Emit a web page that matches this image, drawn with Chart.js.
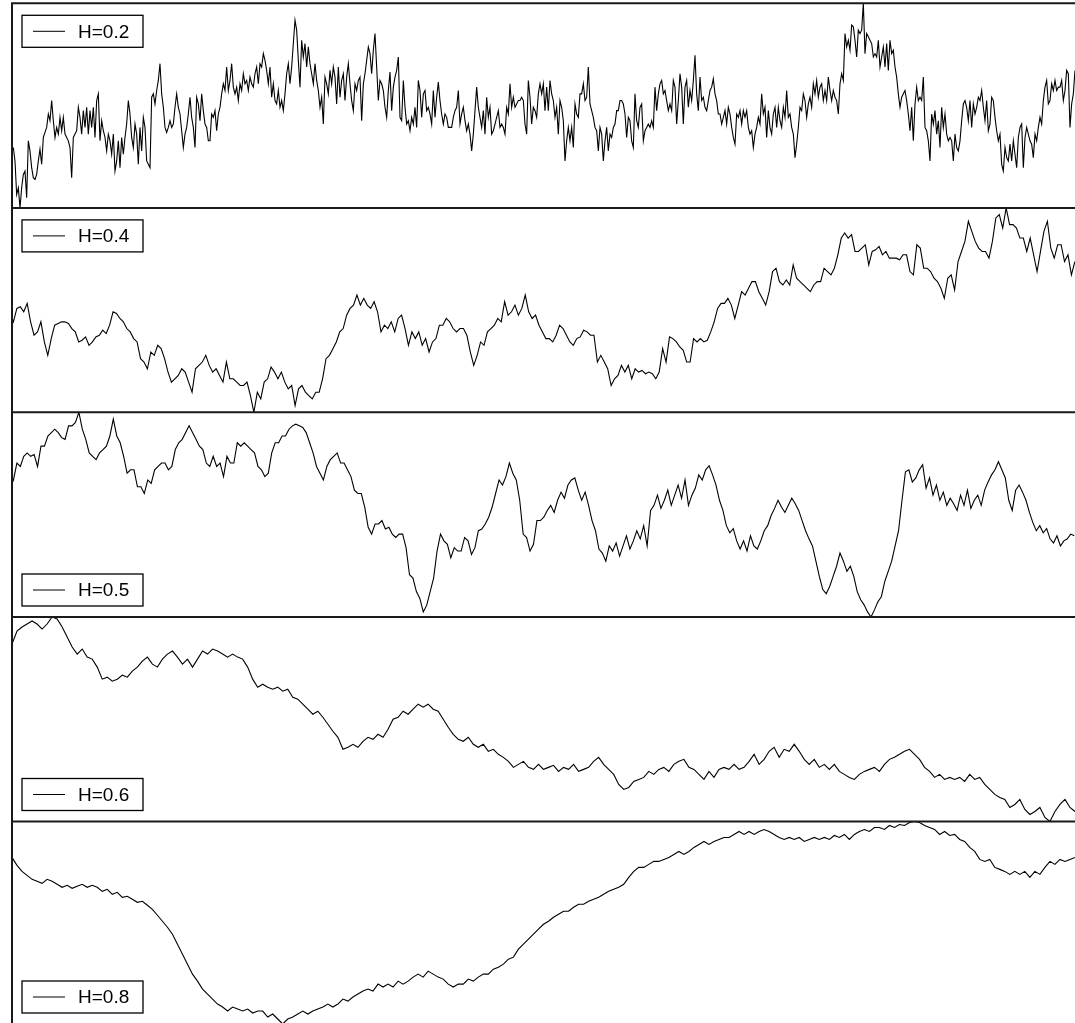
<!DOCTYPE html>
<html>
<head>
<meta charset="utf-8">
<script src="https://cdn.jsdelivr.net/npm/chart.js@4.4.0/dist/chart.umd.min.js"></script>
<style>
  html, body { margin: 0; padding: 0; background: #fff; overflow: hidden; }
  #wrap { position: relative; width: 1075px; height: 1023px; }
  #wrap canvas { position: absolute; left: 0; }
</style>
</head>
<body>
<div id="wrap"></div>
<script>
// fractional Brownian motion sample paths, one panel per Hurst exponent
const labels = ['H=0.2', 'H=0.4', 'H=0.5', 'H=0.6', 'H=0.8']

const h02 = [
  180,140,40,60,0,60,100,110,30,200, 170,120,90,85,100,140,175,130,210,225,
  240,280,260,320,260,210,240,220,270,230, 270,220,210,200,180,90,210,220,230,300,
  270,220,290,240,300,220,290,240,300,210, 320,340,200,260,230,210,170,220,200,160,
  220,110,140,200,120,210,160,210,250,320, 280,210,180,250,220,130,240,170,270,240,
  140,130,120,330,340,310,350,380,430,340, 300,240,225,240,260,240,250,300,340,300,
  280,230,180,220,240,280,330,270,240,180, 330,310,260,340,290,250,240,200,200,280,
  270,290,230,280,300,340,370,350,420,350, 380,430,360,340,360,320,370,350,400,370,
  380,350,390,370,360,400,420,370,430,420, 460,440,410,370,420,330,370,320,310,350,
  300,320,290,340,400,430,370,420,490,560, 530,440,360,500,450,490,420,480,430,400,
  370,430,380,350,300,330,250,390,370,340, 410,370,420,390,310,420,330,380,400,320,
  390,430,370,320,290,370,350,380,390,260, 370,400,440,480,
  460,400,470,520,420,320,380,370,350,300, 270,350,405,290,360,390,410,450,270,260,
  380,300,250,260,230,270,250,300,240,380, 350,270,340,350,290,300,280,250,350,270,
  330,375,320,280,250,280,270,240,240,240, 270,290,300,350,250,280,300,260,230,250,
  220,170,220,290,360,300,270,240,290,220, 330,270,300,220,230,250,270,290,240,250,
  240,220,300,280,370,300,330,300,310,320, 320,330,320,250,220,380,330,250,300,290,
  270,340,370,340,370,290,360,290,380,340, 320,270,300,220,320,300,260,140,200,240,
  200,240,180,310,280,270,340,340,370,320, 330,420,310,290,270,240,230,170,240,220,
  140,200,240,170,220,210,240,250,290,290, 320,320,310,280,210,270,260,200,180,340,
  260,240,300,310,200,230,240,250,240,260, 240,360,290,340,370,380,340,350,320,290,
  310,290,380,360,250,320,400,360,250,360, 380,300,350,320,380,455,340,290,390,320,
  330,300,290,320,350,360,385,340,320,280,
  280,250,270,290,250,300,280,240,210,190, 280,270,290,250,290,270,290,240,220,230,
  180,220,240,270,250,340,280,300,210,290, 240,220,280,300,240,300,260,240,300,270,
  350,270,280,240,220,150,190,240,300,290, 340,320,270,310,330,300,370,340,380,330,
  360,370,320,350,320,390,350,320,350,330, 320,280,370,400,380,520,480,500,470,545,
  540,500,450,530,520,530,610,460,520,510, 500,490,450,460,450,500,420,450,480,420,
  490,410,500,460,470,420,390,340,300,330, 340,350,320,280,230,300,200,310,360,320,
  330,320,390,240,230,200,140,280,250,290, 220,260,180,300,240,280,220,200,210,200,
  140,220,180,170,200,260,310,320,300,260, 320,240,310,280,300,330,320,350,300,260,
  320,230,250,330,320,270,230,200,220,130, 110,180,150,140,190,140,200,160,120,210,
  240,250,120,210,240,220,200,190,150,220, 200,240,270,250,320,360,380,310,320,370,
  350,380,350,360,360,380,320,350,410,400, 240,310,340,410
]

const h04 = [
  300,270,310,315,300,325,270,230,240,270, 210,170,220,260,265,270,270,265,250,240,
  210,215,225,200,210,225,230,245,235,260, 300,295,280,270,250,240,220,210,160,150,
  130,180,170,200,190,160,120,90,100,110, 130,120,90,60,130,140,150,170,140,120,
  130,110,90,150,100,100,90,80,80,90, 50,0,60,40,90,100,135,120,100,120,
  90,70,80,20,70,80,60,50,40,60, 60,100,160,170,190,210,240,250,290,310,
  320,350,320,340,320,310,330,300,240,260, 250,270,240,280,290,250,200,240,220,240,
  200,220,180,210,220,260,260,280,270,250, 240,250,250,230,180,140,170,210,200,240,
  250,260,280,270,330,290,300,320,290,310, 350,300,280,290,260,240,220,
  220,210,230,260,250,230,210,200,220,225, 245,240,230,230,150,170,150,130,80,100,
  110,140,120,140,100,130,120,125,115,120, 115,100,120,190,150,225,220,210,195,185,
  150,150,220,210,220,210,215,240,270,310, 325,325,340,320,280,320,360,350,370,390,
  390,360,340,320,360,420,430,390,380,395, 380,440,400,390,380,370,360,380,390,390,
  430,420,410,430,470,520,535,520,530,480, 480,490,500,440,480,485,495,470,480,460,
  460,460,455,470,470,420,410,500,490,430, 430,420,400,390,370,340,400,410,365,450,
  480,510,570,540,510,490,480,480,460,510, 580,590,550,610,560,560,550,520,520,480,
  520,470,420,480,540,570,490,460,500,500, 450,470,410,450
]

const h05 = [
  385,410,460,450,480,490,480,485,450,510, 510,540,550,560,550,535,530,570,570,580,
  610,560,530,490,480,470,490,500,510,540, 590,540,520,480,430,440,440,390,390,370,
  410,400,440,450,460,460,440,450,500,520, 530,550,570,550,530,510,500,460,450,480,
  450,460,420,480,460,460,520,510,520,510, 500,490,450,440,420,430,490,520,520,540,
  540,560,570,575,570,565,550,520,490,450, 430,410,450,470,480,490,460,460,440,420,
  380,370,370,330,270,250,280,280,290,265, 270,250,240,250,250,210,130,120,80,60,
  20,40,80,120,200,250,230,220,180,210, 200,200,240,230,190,210,260,265,280,300,
  330,370,410,395,420,460,430,410,350,250, 240,200,220,290,290,300,320,
  335,314,350,374,356,395,410,416,380,
  350,374,335,290,260,206,194,170,215,
  200,224,185,215,245,206,230,260,236,275,215,
  320,335,365,326,350,380,335,365,395,356,410,335,365,386,
  425,410,440,452,425,395,350,320,275,254,266,230,
  206,230,200,245,215,206,230,260,275,305,326,
  350,330,314,335,356,340,320,290,260,236,215,170,125,
  86,74,95,125,155,194,170,140,155,125,80,56,
  41,20,5,26,50,65,110,140,170,215,260,
  350,434,440,404,416,440,455,386,416,365,395,
  350,374,335,356,340,320,365,335,380,326,350,365,335,
  380,404,425,440,464,440,416,350,320,380,395,
  374,350,314,284,260,275,254,266,236,224,245,
  215,230,236,250,245
]

const h06 = [
  177,190,194,197,200,197,192,197,204,202, 194,184,174,167,172,164,162,154,142,144,
  140,142,146,144,150,154,160,164,157,154, 162,167,170,164,157,162,154,162,170,167,
  172,170,167,164,167,164,162,154,142,134, 137,134,132,134,130,132,124,122,117,112,
  107,110,104,97,90,84,72,74,77,74, 80,84,82,87,84,92,102,104,110,107,
  112,117,114,117,112,110,102,94,87,82, 80,84,77,74,77,70,72,67,64,60,
  54,57,60,54,52,57,52,54,56,50, 54,52,57,50,52,54,60,64,57,52,
  47,37,32,34,40,42,44,50,47,52, 54,50,57,60,62,54,52,47,42,50,
  44,52,54,52,57,52,54,60,67,57, 62,70,74,64,72,70,77,70,62,57,
  62,54,57,52,57,50,47,44,42,47, 50,52,54,50,57,62,64,67,70,72,
  67,62,54,50,44,47,42,44,42,44, 40,47,42,44,37,32,27,24,22,14,
  17,22,12,7,10,14,4,0,10,17, 22,14,10
]

const h08 = [
  169,161,155,151,147,145,143,147,145,142, 139,141,138,140,142,139,141,139,135,137,
  132,134,129,130,127,124,125,121,117,111, 105,99,92,82,72,62,52,45,37,32,
  27,22,19,15,19,17,15,17,13,15, 15,9,12,7,2,7,9,12,15,12,
  15,17,19,22,19,22,27,25,29,32, 35,37,35,42,39,42,39,45,42,45,
  49,52,49,55,52,49,47,42,39,42, 42,47,45,49,52,52,57,59,62,67,
  69,77,82,87,92,97,102,105,109,112, 115,115,119,122,122,125,127,129,132,135,
  137,139,142,149,155,159,159,162,165,165, 167,169,172,175,172,175,179,182,185,182,
  185,187,189,189,192,195,192,195,192,195, 197,195,192,189,187,189,187,189,185,187,
  189,187,189,187,191,189,192,187,192,195, 197,195,199,199,197,201,199,202,201,204,
  205,204,201,199,197,192,195,191,192,187, 185,179,175,167,165,167,159,157,155,152,
  155,152,155,149,155,152,159,165,162,167, 165,167,169
]

const paths = [h02, h04, h05, h06, h08]
// time of first sample and sample spacing, time axis runs 0..1063
const t0 = [1.33, -2, -2, 0, 0]
const dt = [5 / 3, 3.435, 3.444, 1063 / 212, 1063 / 212]
const legendAt = ['top', 'top', 'bottom', 'bottom', 'bottom']

const panelTop = [3.3, 207.9, 412.3, 617, 821.5]
const panelBottom = [207.9, 412.3, 617, 821.5, 1024]

// axis frame: left spine plus the top spine of each stacked panel
const frame = {
  id: 'frame',
  afterDatasetsDraw(chart) {
    const { ctx, chartArea: a } = chart
    ctx.save()
    ctx.strokeStyle = '#1a1a1a'
    ctx.lineWidth = 2
    ctx.beginPath()
    ctx.moveTo(a.left, chart.height)
    ctx.lineTo(a.left, a.top)
    ctx.lineTo(chart.width, a.top)
    ctx.stroke()
    ctx.restore()
  },
}

// boxed legend in the panel corner
const boxLegend = {
  id: 'boxLegend',
  afterDraw(chart, args, opts) {
    const { ctx, chartArea: a } = chart
    const w = 121
    const h = 32
    const x = 22
    const y = opts.at === 'top' ? a.top + 12 : a.bottom - 11 - h
    ctx.save()
    ctx.fillStyle = '#fff'
    ctx.fillRect(x, y, w, h)
    ctx.strokeStyle = '#000'
    ctx.lineWidth = 1.3
    ctx.strokeRect(x, y, w, h)
    ctx.lineWidth = 1
    ctx.beginPath()
    ctx.moveTo(33, y + h / 2)
    ctx.lineTo(65, y + h / 2)
    ctx.stroke()
    ctx.fillStyle = '#000'
    ctx.font = '19px "Liberation Sans", Arial, sans-serif'
    ctx.textBaseline = 'middle'
    ctx.fillText(chart.data.datasets[0].label, 78, y + h / 2 + 1)
    ctx.restore()
  },
}

const wrap = document.getElementById('wrap')

paths.forEach((values, k) => {
  const top = Math.floor(panelTop[k]) - 2
  const bottom = Math.ceil(panelBottom[k]) + 2
  const canvas = document.createElement('canvas')
  canvas.width = 1075
  canvas.height = bottom - top
  canvas.style.top = top + 'px'
  wrap.appendChild(canvas)

  new Chart(canvas.getContext('2d'), {
    type: 'line',
    data: {
      datasets: [
        {
          label: labels[k],
          data: values.map((v, i) => ({ x: t0[k] + i * dt[k], y: v })),
          borderColor: '#000',
          borderWidth: 1.1,
          pointRadius: 0,
          tension: 0,
          fill: false,
        },
      ],
    },
    options: {
      responsive: false,
      animation: false,
      layout: {
        padding: {
          left: 12,
          right: 0,
          top: panelTop[k] - top,
          bottom: bottom - panelBottom[k],
        },
      },
      scales: {
        x: { type: 'linear', display: false, min: 0, max: 1063 },
        y: {
          display: false,
          min: Math.min(...values),
          max: Math.max(...values),
        },
      },
      plugins: {
        legend: { display: false },
        tooltip: { enabled: false },
        boxLegend: { at: legendAt[k] },
      },
    },
    plugins: [frame, boxLegend],
  })
})
</script>
</body>
</html>
